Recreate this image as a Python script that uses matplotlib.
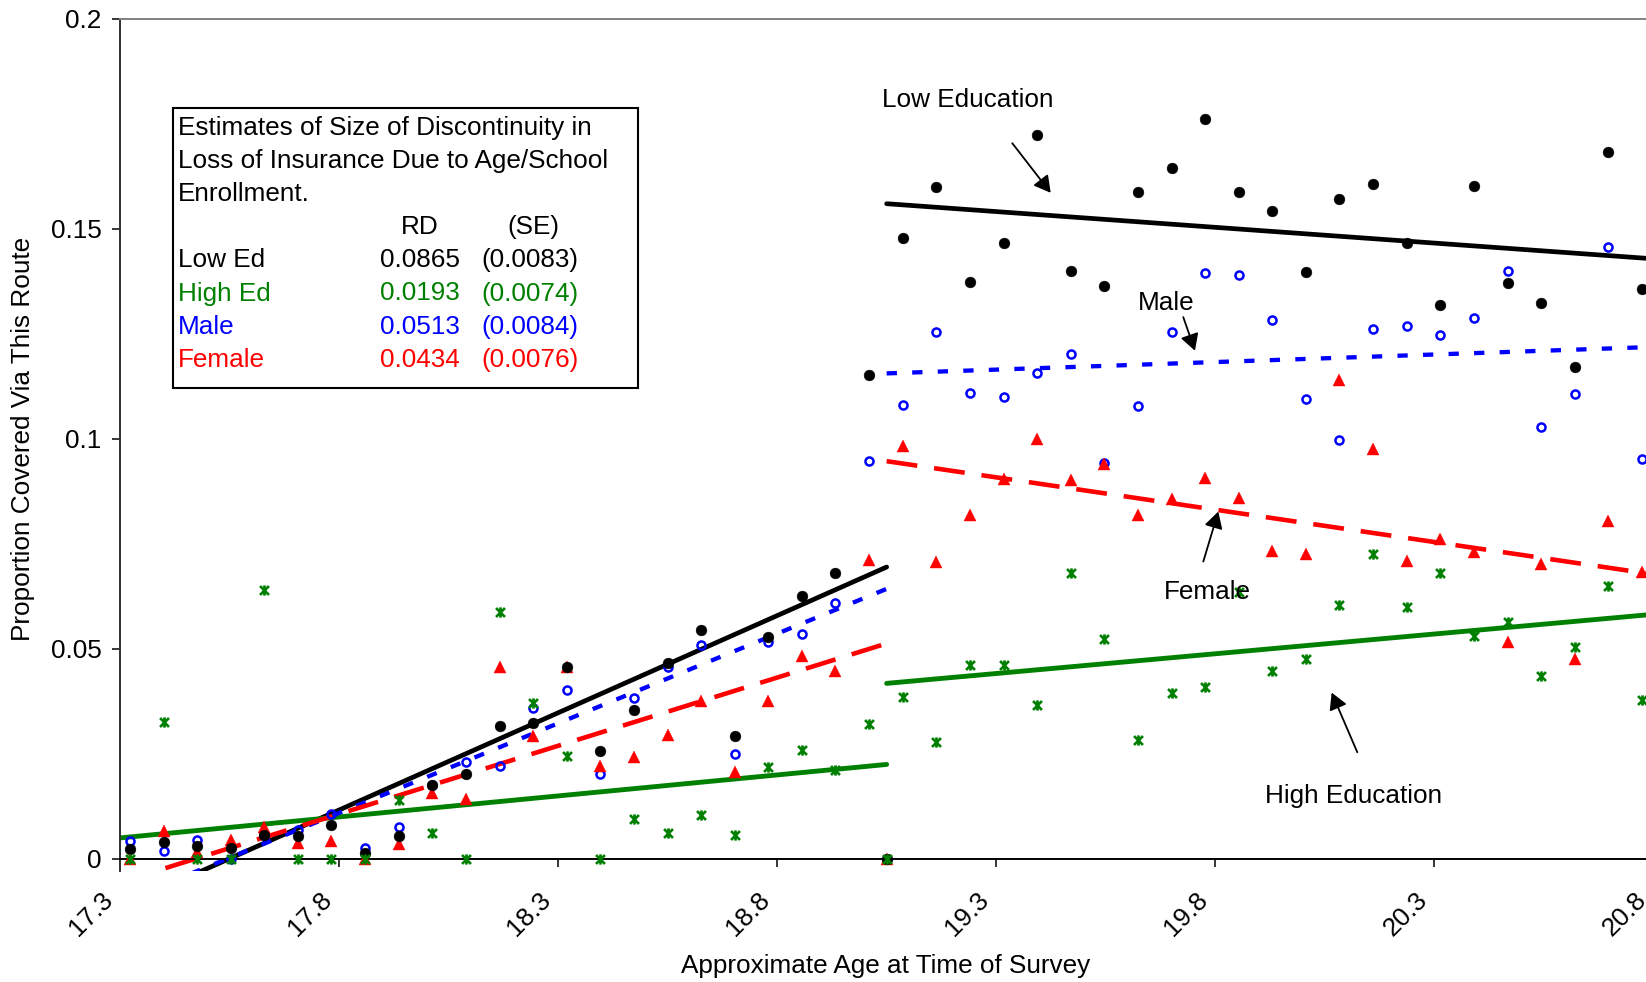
import matplotlib
matplotlib.use("Agg")
import matplotlib.pyplot as plt
from matplotlib.path import Path
from matplotlib.patches import Rectangle
from matplotlib.transforms import ScaledTranslation

plt.rcParams["font.family"] = ["Liberation Sans", "DejaVu Sans"]
plt.rcParams["lines.scale_dashes"] = False
FS = 18.8

# ---- data: 4-week age bins, plus the point at the enrollment cutoff ----
ages = [17.324, 17.400, 17.477, 17.553, 17.630, 17.707, 17.783, 17.860,
        17.937, 18.013, 18.090, 18.167, 18.243, 18.320, 18.397, 18.473,
        18.550, 18.627, 18.703, 18.780, 18.857, 18.933, 19.010, 19.050,
        19.087, 19.163, 19.240, 19.317, 19.393, 19.470, 19.547, 19.623,
        19.700, 19.777, 19.853, 19.930, 20.007, 20.083, 20.160, 20.237,
        20.313, 20.390, 20.467, 20.543, 20.620, 20.697, 20.773]

low_ed = [0.0023, 0.0040, 0.0031, 0.0025, 0.0056, 0.0055, 0.0081, 0.0015,
          0.0055, 0.0176, 0.0202, 0.0317, 0.0323, 0.0458, 0.0258, 0.0355,
          0.0466, 0.0544, 0.0293, 0.0528, 0.0627, 0.0680, 0.1151, 0.0,
          0.1479, 0.1599, 0.1373, 0.1466, 0.1724, 0.1400, 0.1363, 0.1587,
          0.1646, 0.1761, 0.1587, 0.1542, 0.1398, 0.1571, 0.1608, 0.1467,
          0.1318, 0.1602, 0.1372, 0.1323, 0.1172, 0.1682, 0.1356]

high_ed = [0.0, 0.0327, 0.0, 0.0, 0.0640, 0.0, 0.0, 0.0,
           0.0140, 0.0061, 0.0, 0.0589, 0.0372, 0.0245, 0.0, 0.0095,
           0.0061, 0.0105, 0.0057, 0.0220, 0.0260, 0.0212, 0.0321, 0.0,
           0.0385, 0.0278, 0.0462, 0.0462, 0.0366, 0.0681, 0.0524, 0.0283,
           0.0396, 0.0410, 0.0636, 0.0448, 0.0477, 0.0604, 0.0727, 0.0600,
           0.0681, 0.0531, 0.0565, 0.0435, 0.0505, 0.0650, 0.0378]

male = [0.0043, 0.0020, 0.0045, 0.0, 0.0056, 0.0070, 0.0107, 0.0025,
        0.0077, 0.0176, 0.0230, 0.0222, 0.0360, 0.0402, 0.0202, 0.0383,
        0.0458, 0.0509, 0.0250, 0.0517, 0.0536, 0.0609, 0.0947, 0.0,
        0.1080, 0.1255, 0.1110, 0.1099, 0.1156, 0.1202, 0.0942, 0.1079,
        0.1255, 0.1396, 0.1390, 0.1283, 0.1096, 0.0997, 0.1262, 0.1269,
        0.1247, 0.1287, 0.1400, 0.1029, 0.1108, 0.1458, 0.0952]

female = [0.0, 0.0066, 0.0016, 0.0045, 0.0077, 0.0039, 0.0043, 0.0,
          0.0036, 0.0156, 0.0142, 0.0458, 0.0293, 0.0458, 0.0221, 0.0242,
          0.0295, 0.0375, 0.0206, 0.0376, 0.0484, 0.0448, 0.0712, 0.0,
          0.0982, 0.0708, 0.0820, 0.0904, 0.0999, 0.0902, 0.0940, 0.0820,
          0.0858, 0.0908, 0.0860, 0.0732, 0.0727, 0.1140, 0.0977, 0.0709,
          0.0761, 0.0730, 0.0517, 0.0702, 0.0475, 0.0804, 0.0684]

# local linear fits on each side of the cutoff (order: Low Ed, High Ed, Male, Female)
group_labels = ["Low Ed", "High Ed", "Male", "Female"]
cutoff_age = 19.05
fit_left_end = [0.0695, 0.0225, 0.0643, 0.0513]
fit_left_slope = [0.0463, 0.0100, 0.0427, 0.0325]
fit_right_slope = [-0.0075, 0.0094, 0.0036, -0.0154]
rd_estimates = [0.0865, 0.0193, 0.0513, 0.0434]
se_estimates = [0.0083, 0.0074, 0.0084, 0.0076]

x_ticks = [17.3, 17.8, 18.3, 18.8, 19.3, 19.8, 20.3, 20.8]
y_ticks = [0, 0.05, 0.1, 0.15, 0.2]
y_tick_labels = ["0", "0.05", "0.1", "0.15", "0.2"]

# ---- styles ----
colors = ["#000000", "#008000", "#0000FF", "#FF0000"]
line_styles = ["-", "-", (0, (7.4, 11.0)), (0, (22.3, 12.2))]
line_widths = [3.4, 3.5, 3.1, 3.3]

star = Path([(-1, -1), (1, 1), (-1, 1), (1, -1), (0, -1.15), (0, 1.15)],
            [Path.MOVETO, Path.LINETO, Path.MOVETO, Path.LINETO,
             Path.MOVETO, Path.LINETO])

W, H = 1646, 982
fig = plt.figure(figsize=(W / 100, H / 100), dpi=100)
x0_px, x1_px = 119.7, 1653.6
y_top_px, y_bot_px = 18.9, 870.7
ax = fig.add_axes([x0_px / W, 1 - y_bot_px / H, (x1_px - x0_px) / W,
                   (y_bot_px - y_top_px) / H])
ax.set_xlim(17.3, 20.8)
ax.set_ylim(-0.0028, 0.2)

# fitted lines
x_lo, x_hi = 17.3, 20.8
for i in range(4):
    end = fit_left_end[i]
    left_y = [end - fit_left_slope[i] * (cutoff_age - x_lo), end]
    start_r = end + rd_estimates[i]
    right_y = [start_r, start_r + fit_right_slope[i] * (x_hi - cutoff_age)]
    kw = dict(color=colors[i], lw=line_widths[i], ls=line_styles[i],
              solid_capstyle="round", dash_capstyle="butt", zorder=2)
    ax.plot([x_lo, cutoff_age], left_y, **kw)
    ax.plot([cutoff_age, x_hi], right_y, **kw)

# binned means
ax.plot(ages, male, ls="none", marker="o", ms=5.8, mfc="none", mec="#0000FF",
        mew=1.8, zorder=3, clip_on=False)
ax.plot(ages, female, ls="none", marker="^", ms=8.6, mfc="#FF0000",
        mec="#FF0000", mew=0.3, zorder=3.1, clip_on=False)
ax.plot(ages, low_ed, ls="none", marker="o", ms=7.8, mfc="#000000",
        mec="#000000", mew=0.3, zorder=3.2, clip_on=False)
ax.plot(ages, high_ed, ls="none", marker=star, ms=7.4, mfc="none",
        mec="#008000", mew=1.9, zorder=3.3, clip_on=False)

# axes styling
ax.spines["right"].set_visible(False)
ax.spines["top"].set_color("#808080")
ax.spines["top"].set_linewidth(1.4)
ax.spines["left"].set_color("#303030")
ax.spines["left"].set_linewidth(1.4)
ax.spines["bottom"].set_position(("data", 0))
ax.spines["bottom"].set_color("#000000")
ax.spines["bottom"].set_linewidth(1.4)

ax.set_xticks(x_ticks)
ax.set_xticklabels([f"{t:.1f}" for t in x_ticks])
ax.set_yticks(y_ticks)
ax.set_yticklabels(y_tick_labels)
ax.tick_params(axis="both", direction="out", length=6, width=1.1,
               labelsize=FS, colors="#000000")
ax.tick_params(axis="y", pad=7)
ax.tick_params(axis="x", pad=21)
shift = ScaledTranslation(-11.0 / 100, 0, fig.dpi_scale_trans)
for lab in ax.get_xticklabels():
    lab.set_rotation(45)
    lab.set_rotation_mode("anchor")
    lab.set_ha("right")
    lab.set_va("center")
    lab.set_transform(lab.get_transform() + shift)


def fx(px):
    return px / W


def fy(px):
    return 1 - px / H


fig.text(fx(885.6), fy(973.3), "Approximate Age at Time of Survey",
         ha="center", va="baseline", fontsize=FS)
fig.text(fx(23.5), fy(438.5), "Proportion Covered Via This Route",
         rotation=90, ha="center", va="center", fontsize=FS)

# annotations with arrows
arrow_kw = dict(arrowstyle="-|>,head_length=0.5,head_width=0.28",
                color="black", lw=1.3, mutation_scale=20,
                shrinkA=0, shrinkB=0)
labels = [("Low Education", (19.0387, 0.1791), (19.3367, 0.1704), (19.4243, 0.1586)),
          ("Male", (19.6241, 0.1307), (19.7268, 0.1290), (19.7535, 0.1210)),
          ("Female", (19.6828, 0.0619), (19.7725, 0.0708), (19.8067, 0.0827)),
          ("High Education", (19.9133, 0.01324), (20.1239, 0.0254), (20.0654, 0.0396))]
for text, pos, tail, tip in labels:
    ax.text(pos[0], pos[1], text, fontsize=FS, ha="left", va="baseline",
            zorder=6)
    ax.annotate("", xy=tip, xytext=tail, arrowprops=arrow_kw, zorder=6)

# estimates box
box = Rectangle((fx(172.6), fy(388.3)), fx(637.6) - fx(172.6),
                fy(108.3) - fy(388.3), transform=fig.transFigure,
                facecolor="white", edgecolor="black", lw=1.5, zorder=5)
fig.add_artist(box)
base = [135 + 33.1 * i for i in range(8)]
title_lines = ["Estimates of Size of Discontinuity in",
               "Loss of Insurance Due to Age/School",
               "Enrollment."]
for i, t in enumerate(title_lines):
    fig.text(fx(177.5), fy(base[i]), t, fontsize=FS, va="baseline",
             ha="left", zorder=6)
fig.text(fx(419.7), fy(base[3]), "RD", fontsize=FS, va="baseline",
         ha="center", zorder=6)
fig.text(fx(533), fy(base[3]), "(SE)", fontsize=FS, va="baseline",
         ha="center", zorder=6)
for i in range(4):
    yb = fy(base[4 + i])
    fig.text(fx(177.5), yb, group_labels[i], color=colors[i], fontsize=FS,
             va="baseline", ha="left", zorder=6)
    fig.text(fx(459.5), yb, f"{rd_estimates[i]:.4f}", color=colors[i],
             fontsize=FS, va="baseline", ha="right", zorder=6)
    fig.text(fx(481.5), yb, f"({se_estimates[i]:.4f})", color=colors[i],
             fontsize=FS, va="baseline", ha="left", zorder=6)

fig.savefig("out.png", dpi=100, facecolor="white")
